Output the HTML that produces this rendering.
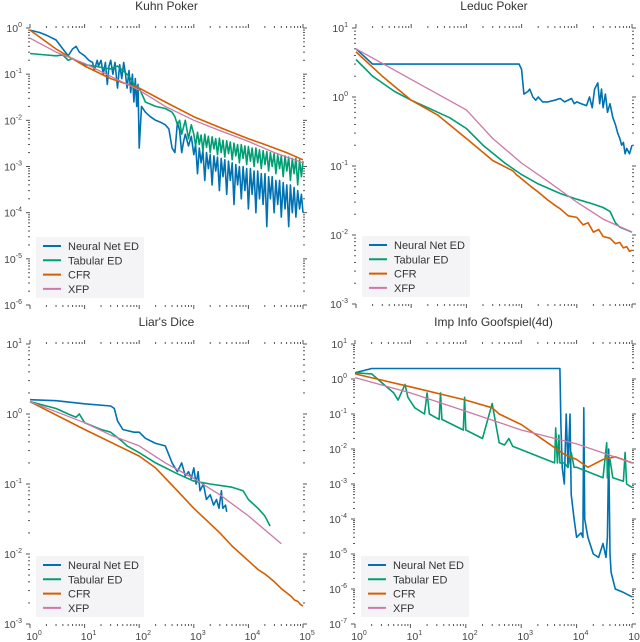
<!DOCTYPE html>
<html><head><meta charset="utf-8"><style>
body{margin:0;background:#fff}
svg{display:block;font-family:"Liberation Sans","DejaVu Sans",sans-serif}
</style></head><body>
<svg id="fig" width="640" height="642" viewBox="0 0 640 642"></svg>
<script>
const colors={nn:"#0072b2",tab:"#009e73",cfr:"#d55e00",xfp:"#cc79a7"};
const seriesNames=["Neural Net ED","Tabular ED","CFR","XFP"];
const xTickExps=[0,1,2,3,4,5];

// Kuhn Poker
const kuhnTailX=[1000,1080,1170,1260,1360,1470,1590,1710,1850,2000,2160,2330,2520,2720,2940,3170,3420,3700,4000,4320,4660,5040,5440,5870,6340,6850,7400,7990,8630,9320,10000,10900,11700,12700,13700,14800,16000,17200,18600,20100,21700,23400,25300,27300,29500,31900,34400,37200,40100,43300,46800,50500,54600,58900,63600,68700,74200,80100,86500,93400,100000];
const kuhnNnHeadX=[1,1.5,2,3,4,5,6,7,8,10,12,14,15,17,18,20,22,24,26,28,30,33,36,40,44,48,52,56,60,65,70,75,80,85,90,95,100,110,130,160,200,250,300,350,400,450,500,550,600,650,700,800,900];
const kuhnNnHeadY=[0.9,0.8,0.7,0.55,0.35,0.25,0.35,0.4,0.3,0.25,0.2,0.18,0.12,0.2,0.15,0.2,0.1,0.18,0.06,0.15,0.2,0.1,0.18,0.05,0.16,0.08,0.18,0.1,0.05,0.12,0.04,0.1,0.025,0.08,0.02,0.06,0.0025,0.02,0.015,0.012,0.01,0.009,0.008,0.0065,0.0025,0.002,0.009,0.006,0.002,0.0035,0.005,0.0028,0.0045];
const kuhnNnTailY=[0.0018,0.003,0.0007,0.0025,0.0012,0.0022,0.0005,0.002,0.0009,0.0018,0.0004,0.0017,0.0008,0.0016,0.0003,0.0015,0.0006,0.0014,0.00025,0.0013,0.0005,0.0012,0.00015,0.0011,0.0004,0.001,0.0002,0.001,0.0003,0.0009,0.00012,0.0009,0.00025,0.0008,0.0001,0.0008,0.0002,0.0007,0.00015,0.0007,0.00005,0.0006,0.0002,0.0006,0.0001,0.0005,0.00015,0.0005,0.00008,0.00045,0.00012,0.0004,0.00005,0.0004,0.0001,0.00035,0.00008,0.0003,0.00012,0.00025,0.0001];
const kuhnTabHeadX=[1,2,3,4,5,6,8,10,15,20,30,40,50,60,70,80,100,130,200,300,400,450,500,550,600,700,800,900];
const kuhnTabHeadY=[0.28,0.26,0.25,0.26,0.2,0.22,0.18,0.16,0.15,0.14,0.13,0.15,0.12,0.1,0.08,0.06,0.05,0.025,0.02,0.018,0.015,0.012,0.008,0.01,0.005,0.01,0.004,0.008];
const kuhnTabTailY=[0.005,0.0028,0.0055,0.003,0.0048,0.0022,0.005,0.0026,0.0045,0.002,0.0044,0.0024,0.004,0.0018,0.0041,0.002,0.0037,0.0016,0.0036,0.0019,0.0034,0.0014,0.0032,0.0017,0.003,0.0012,0.003,0.0015,0.0028,0.0011,0.0027,0.0013,0.0025,0.001,0.0025,0.0012,0.0023,0.0009,0.0022,0.0011,0.0021,0.0008,0.002,0.001,0.0019,0.0007,0.0018,0.0009,0.0017,0.0006,0.0017,0.0008,0.0016,0.0005,0.0015,0.0007,0.0015,0.0004,0.0014,0.0006,0.0013];
const kuhnCfrX=[1,3,10,30,100,300,1000,3000,10000,20000,30000,50000,100000];
const kuhnCfrY=[0.9,0.35,0.15,0.08,0.05,0.025,0.012,0.007,0.004,0.003,0.0025,0.002,0.0014];
const kuhnXfpX=[1,3,10,30,100,300,1000,3000,10000,30000,100000];
const kuhnXfpY=[0.6,0.3,0.17,0.09,0.045,0.02,0.01,0.006,0.0035,0.002,0.0012];

// Leduc Poker
const leducNnX=[1,2,3,10,100,900,1000,1100,1300,1400,1600,1800,2000,2400,3000,4000,5000,6000,8000,9000,10000,12000,15000,17000,19000,21000,24000,26000,28000,30000,33000,36000,40000,45000,50000,55000,60000,65000,70000,75000,80000,90000,100000];
const leducNnY=[5,3,3,3,3,3,2.5,1.1,1.2,1.3,1.0,0.9,1.0,0.85,0.85,0.9,0.95,0.85,0.95,0.8,0.85,0.8,0.75,1.0,0.7,1.3,1.6,0.8,1.3,0.7,1.1,0.6,0.8,0.5,0.4,0.3,0.25,0.2,0.22,0.15,0.18,0.15,0.2];
const leducTabX=[1,2,3,5,10,20,50,100,200,500,1000,2000,5000,10000,20000,30000,40000,50000,60000,100000];
const leducTabY=[3.5,2,1.6,1.2,0.9,0.7,0.5,0.35,0.2,0.11,0.075,0.055,0.04,0.033,0.028,0.025,0.022,0.015,0.013,0.011];
const leducCfrX=[1,3,10,30,100,300,700,800,900,1000,1500,2000,3000,4000,5000,7000,10000,13000,16000,20000,25000,30000,40000,50000,60000,70000,80000,90000,100000];
const leducCfrY=[4.5,2,0.9,0.55,0.25,0.12,0.085,0.075,0.07,0.065,0.05,0.042,0.032,0.027,0.024,0.019,0.018,0.014,0.015,0.011,0.012,0.0095,0.009,0.0075,0.0078,0.0065,0.0068,0.0058,0.006];
const leducXfpX=[1,10,100,300,1000,3000,10000,30000,100000];
const leducXfpY=[5,1.8,0.65,0.25,0.11,0.06,0.03,0.017,0.011];

// Liar's Dice
const diceNnX=[1,3,10,30,35,40,50,80,100,130,200,300,400,500,600,700,800,900,1000,1100,1200,1300,1500,1700,2000,2300,2600,2900,3200,3400,3800,4000];
const diceNnY=[1.6,1.55,1.4,1.3,1.2,0.8,0.6,0.55,0.55,0.45,0.38,0.35,0.2,0.15,0.2,0.13,0.15,0.12,0.17,0.1,0.15,0.08,0.1,0.06,0.07,0.05,0.06,0.045,0.08,0.045,0.05,0.04];
const diceTabX=[1,3,5,7,8,10,20,30,50,60,100,200,500,1000,2000,5000,8000,10000,15000,20000,25000];
const diceTabY=[1.5,1.2,1,0.9,1,0.75,0.6,0.55,0.4,0.35,0.28,0.2,0.14,0.11,0.1,0.09,0.08,0.06,0.045,0.035,0.025];
const diceCfrX=[1,10,100,200,500,1000,3000,5000,10000,15000,20000,30000,40000,50000,60000,70000,80000,90000,100000];
const diceCfrY=[1.5,0.6,0.25,0.17,0.08,0.045,0.02,0.013,0.008,0.006,0.0052,0.004,0.0032,0.0028,0.0025,0.0022,0.0021,0.0019,0.0018];
const diceXfpX=[1,10,30,100,300,1000,3000,10000,40000];
const diceXfpY=[1.5,0.75,0.5,0.35,0.2,0.12,0.07,0.035,0.014];

// Goofspiel
const goofNnX=[1,2,5000,5200,5500,6000,6500,7000,7600,8000,9000,10000,12000,13000,13500,14000,16000,20000,25000,30000,34000,36000,38000,40000,42000,50000,70000,100000];
const goofNnY=[1.5,2,2,0.05,0.003,0.001,0.1,0.003,0.1,0.0005,0.0001,0.00003,0.00004,0.00003,0.15,0.0001,0.00003,0.00001,0.000008,0.00002,0.000008,0.00003,0.01,0.00001,0.000003,0.000001,0.0000008,0.0000006];
const goofTabX=[1,2,3,5,6,8,9,12,18,20,22,33,35,37,90,95,100,200,300,350,400,500,600,700,4000,4200,4500,4800,5000,6000,7000,8000,9000,10000,30000,35000,36000,40000,45000,70000,75000,80000,100000];
const goofTabY=[1.5,1.4,0.8,0.4,0.25,0.7,0.3,0.15,0.1,0.4,0.1,0.07,0.4,0.07,0.035,0.3,0.035,0.02,0.2,0.05,0.015,0.013,0.02,0.012,0.004,0.04,0.004,0.025,0.004,0.004,0.003,0.008,0.003,0.003,0.0015,0.015,0.0015,0.005,0.0015,0.0012,0.008,0.001,0.0008];
const goofCfrX=[1,10,100,300,400,1000,3000,6000,10000,16000,30000,50000,100000];
const goofCfrY=[1.4,0.6,0.25,0.15,0.1,0.05,0.015,0.007,0.005,0.003,0.005,0.006,0.004];
const goofXfpX=[1,10,100,1000,10000,100000];
const goofXfpY=[1.1,0.4,0.12,0.035,0.014,0.004];

const panels=[
 {name:"kuhn-poker",title:"Kuhn Poker",x0:30,x1:303,y0:28,y1:305,ymin:-6,ymax:0,xlabels:false,
  series:[[kuhnNnHeadX.concat(kuhnTailX),kuhnNnHeadY.concat(kuhnNnTailY)],[kuhnTabHeadX.concat(kuhnTailX),kuhnTabHeadY.concat(kuhnTabTailY)],[kuhnCfrX,kuhnCfrY],[kuhnXfpX,kuhnXfpY]]},
 {name:"leduc-poker",title:"Leduc Poker",x0:356,x1:632,y0:28,y1:304,ymin:-3,ymax:1,xlabels:false,
  series:[[leducNnX,leducNnY],[leducTabX,leducTabY],[leducCfrX,leducCfrY],[leducXfpX,leducXfpY]]},
 {name:"liars-dice",title:"Liar's Dice",x0:30,x1:303,y0:344,y1:624,ymin:-3,ymax:1,xlabels:true,
  series:[[diceNnX,diceNnY],[diceTabX,diceTabY],[diceCfrX,diceCfrY],[diceXfpX,diceXfpY]]},
 {name:"goofspiel",title:"Imp Info Goofspiel(4d)",x0:355,x1:632,y0:344,y1:624,ymin:-7,ymax:1,xlabels:true,
  series:[[goofNnX,goofNnY],[goofTabX,goofTabY],[goofCfrX,goofCfrY],[goofXfpX,goofXfpY]]}
];
const keys=["nn","tab","cfr","xfp"];
const NS="http://www.w3.org/2000/svg";
const svg=document.getElementById("fig");
function mk(tag,attrs,parent){const e=document.createElementNS(NS,tag);for(const k in attrs)e.setAttribute(k,attrs[k]);parent.appendChild(e);return e;}
function sup(parent,x,y,exp,anchor){
  const t=mk("text",{x:x,y:y,"font-size":"10.5","fill":"#444","text-anchor":anchor},parent);
  t.appendChild(document.createTextNode("10"));
  const s=mk("tspan",{dy:"-5","font-size":"7"},t);s.textContent=String(exp);
  return t;
}
panels.forEach(p=>{
  const g=mk("g",{},svg);
  
  
  const xs=v=>p.x0+(Math.log10(v)-0)/5*(p.x1-p.x0);
  const ys=v=>p.y1-(Math.log10(v)-p.ymin)/(p.ymax-p.ymin)*(p.y1-p.y0);
  const t=mk("text",{x:(p.x0+p.x1)/2,y:p.y0-18,"font-size":"12","fill":"#333","text-anchor":"middle"},g);
  t.textContent=p.title;
  
  
  const tk=mk("g",{stroke:"#555","stroke-width":"1"},g);
  
  
  for(let e=0;e<=5;e++){
    const X=xs(Math.pow(10,e));
    mk("line",{x1:X,x2:X,y1:p.y1,y2:p.y1+4},tk);mk("line",{x1:X,x2:X,y1:p.y0,y2:p.y0-4},tk);
    if(e<5)for(let m=2;m<=9;m++){const Xm=xs(m*Math.pow(10,e));
      mk("line",{x1:Xm,x2:Xm,y1:p.y1,y2:p.y1+2},tk);mk("line",{x1:Xm,x2:Xm,y1:p.y0,y2:p.y0-2},tk);}
  }
  for(let e=p.ymin;e<=p.ymax;e++){
    const Y=ys(Math.pow(10,e));
    mk("line",{x1:p.x0-4,x2:p.x0,y1:Y,y2:Y},tk);mk("line",{x1:p.x1,x2:p.x1+4,y1:Y,y2:Y},tk);
    if(e<p.ymax)for(let m=2;m<=9;m++){const Ym=ys(m*Math.pow(10,e));
      mk("line",{x1:p.x0-2,x2:p.x0,y1:Ym,y2:Ym},tk);mk("line",{x1:p.x1,x2:p.x1+2,y1:Ym,y2:Ym},tk);}
    const lb=sup(g,p.x0-8,Y+4,e,"end");
    
    
  }
  if(p.xlabels)xTickExps.forEach(e=>{
    const lb=sup(g,xs(Math.pow(10,e))+4,p.y1+16,e,"middle");
    
    
  });
  p.series.forEach((s,i)=>{
    const n=Math.min(s[0].length,s[1].length);
    let d="";
    for(let k=0;k<n;k++)d+=(k?"L":"M")+xs(s[0][k]).toFixed(1)+","+ys(s[1][k]).toFixed(1);
    const path=mk("path",{d:d,fill:"none",stroke:colors[keys[i]],"stroke-width":i<3?"1.6":"1.3","stroke-linejoin":"round"},g);
    
    
  });
  const lx=p.x0+6, ly=p.y1-68;
  const lg=mk("g",{},g);
  
  
  mk("rect",{x:lx,y:ly,width:108,height:61,fill:"#f3f3f7","fill-opacity":"0.95"},lg);
  seriesNames.forEach((nm,i)=>{
    const yy=ly+9+i*14.3;
    const en=mk("g",{},lg);
    
    
    mk("line",{x1:lx+7,x2:lx+25,y1:yy,y2:yy,stroke:colors[keys[i]],"stroke-width":"2"},en);
    const tt=mk("text",{x:lx+32,y:yy+4,"font-size":"11","fill":"#333"},en);
    tt.textContent=nm;
  });
});
</script>
</body></html>
